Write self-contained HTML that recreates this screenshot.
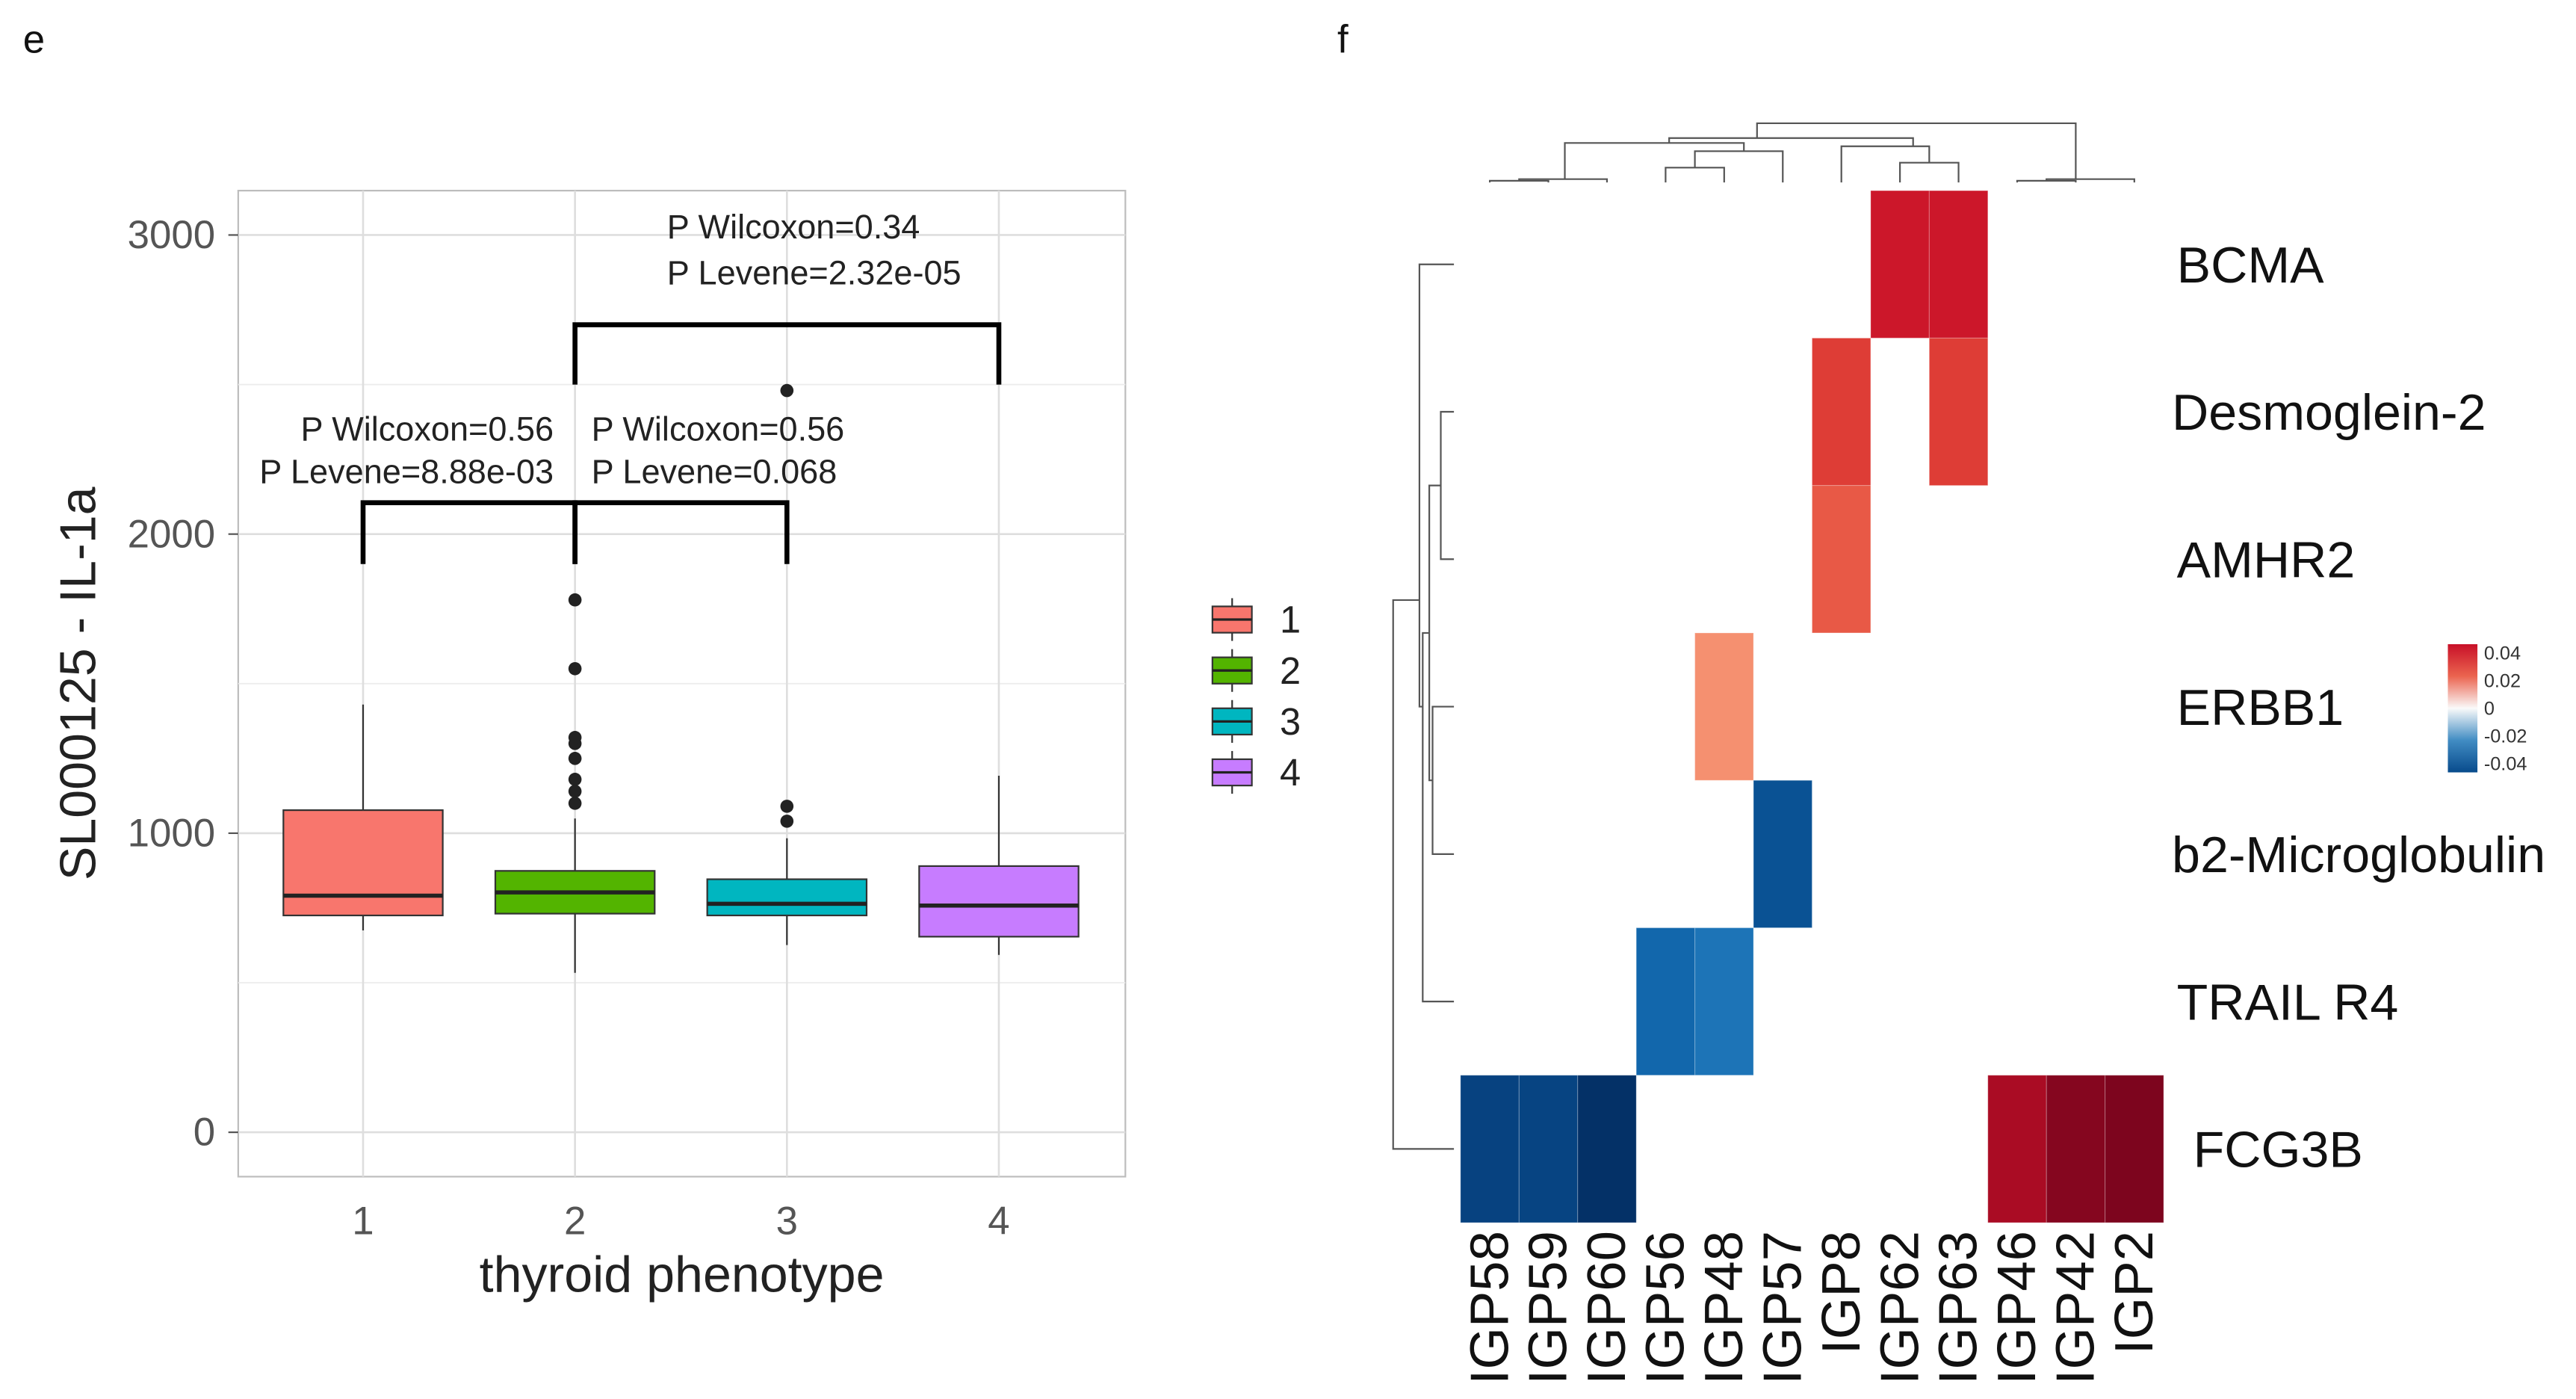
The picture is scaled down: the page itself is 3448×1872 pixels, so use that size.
<!DOCTYPE html>
<html><head><meta charset="utf-8"><style>
html,body{margin:0;padding:0;background:#fff}
svg{display:block}
text{font-family:"Liberation Sans",Arial,sans-serif}
</style></head><body>
<svg id="fig" width="3448" height="1872" viewBox="0 0 1568 851.3">
<text x="14" y="32" font-size="24" fill="#111">e</text>
<text x="814" y="32" font-size="24" fill="#111">f</text>
<g id="boxplot"></g>
<g id="heatmap"></g>
</svg>
<script>
// ---- Boxplot data ----
const groups = ["1","2","3","4"];
const q1 = [725, 731, 725, 654];
const med = [791, 802, 764, 758];
const q3 = [1077, 874, 846, 890];
const whiskLo = [675, 533, 626, 593];
const whiskHi = [1430, 1049, 983, 1192];
const outliers = [[], [1100,1140,1180,1250,1300,1320,1550,1780], [1040,1090,2480], []];
const fills = ["#F8766D","#53B400","#00B6C0","#C77CFF"];
const yTicks = [0,1000,2000,3000];
const minorTicks = [500,1500,2500];

const NS = "http://www.w3.org/2000/svg";
function mk(parent, tag, attrs){ const e=document.createElementNS(NS,tag); for(const k in attrs) e.setAttribute(k,attrs[k]); parent.appendChild(e); return e; }

const bp = document.getElementById('boxplot');
const PL=145, PR=685, PT=116, PB=716;
const yS = v => 689 - v*0.182;
const xS = i => 221 + i*129;

let el = mk(bp,'rect',{x:PL,y:PT,width:PR-PL,height:PB-PT,fill:'#fff',stroke:'#bdbdbd','stroke-width':1});


minorTicks.forEach(v=>{ const l=mk(bp,'line',{x1:PL,x2:PR,y1:yS(v),y2:yS(v),stroke:'#ececec','stroke-width':0.8});
 
  });
yTicks.forEach(v=>{ const l=mk(bp,'line',{x1:PL,x2:PR,y1:yS(v),y2:yS(v),stroke:'#dedede','stroke-width':1.2});
 
 
 const t=mk(bp,'text',{x:131,y:yS(v)+8,'text-anchor':'end','font-size':24,fill:'#555'}); t.textContent=v;
 
 
 const tk=mk(bp,'line',{x1:139,x2:PL,y1:yS(v),y2:yS(v),stroke:'#555','stroke-width':1});
 
  });
groups.forEach((g,i)=>{ const l=mk(bp,'line',{x1:xS(i),x2:xS(i),y1:PT,y2:PB,stroke:'#dedede','stroke-width':1.2});
 
 
 const t=mk(bp,'text',{x:xS(i),y:751,'text-anchor':'middle','font-size':24,fill:'#555'}); t.textContent=g;
 
  });

const bw=97;
groups.forEach((g,i)=>{
 const x=xS(i);
 const w1=mk(bp,'line',{x1:x,x2:x,y1:yS(whiskHi[i]),y2:yS(q3[i]),stroke:'#333','stroke-width':1});
 
 
 const w2=mk(bp,'line',{x1:x,x2:x,y1:yS(q1[i]),y2:yS(whiskLo[i]),stroke:'#333','stroke-width':1});
 
 
 const r=mk(bp,'rect',{x:x-bw/2,y:yS(q3[i]),width:bw,height:yS(q1[i])-yS(q3[i]),fill:fills[i],stroke:'#333','stroke-width':1});
 
 
 const m=mk(bp,'line',{x1:x-bw/2,x2:x+bw/2,y1:yS(med[i]),y2:yS(med[i]),stroke:'#222','stroke-width':2.5});
 
 
 outliers[i].forEach(v=>{ const c=mk(bp,'circle',{cx:x,cy:yS(v),r:4,fill:'#222'});
  
   });
});

// brackets
const brackets = [[0,1,2105,1900],[1,2,2105,1900],[1,3,2700,2500]];
brackets.forEach(b=>{
 const p=mk(bp,'path',{d:`M${xS(b[0])},${yS(b[3])}V${yS(b[2])}H${xS(b[1])}V${yS(b[3])}`,fill:'none',stroke:'#000','stroke-width':3});
 
 
});
const anns=[[337,268,'end','P Wilcoxon=0.56'],[337,294,'end','P Levene=8.88e-03'],[360,268,'start','P Wilcoxon=0.56'],[360,294,'start','P Levene=0.068'],[406,145,'start','P Wilcoxon=0.34'],[406,173,'start','P Levene=2.32e-05']];
anns.forEach(a=>{ const t=mk(bp,'text',{x:a[0],y:a[1],'text-anchor':a[2],'font-size':20.5,fill:'#222'}); t.textContent=a[3];
 
  });

let t=mk(bp,'text',{x:415,y:786,'text-anchor':'middle','font-size':31,fill:'#222'}); t.textContent='thyroid phenotype';


t=mk(bp,'text',{x:0,y:0,'text-anchor':'middle','font-size':31,fill:'#222',transform:'translate(58,416) rotate(-90)'}); t.textContent='SL000125 - IL-1a';



groups.forEach((g,i)=>{
 const y=377+i*31;
 const l=mk(bp,'line',{x1:750,x2:750,y1:y-13,y2:y+13,stroke:'#333','stroke-width':1});
 
 
 const r=mk(bp,'rect',{x:738,y:y-8,width:24,height:16,fill:fills[i],stroke:'#333','stroke-width':1});
 
 
 const m=mk(bp,'line',{x1:738,x2:762,y1:y,y2:y,stroke:'#222','stroke-width':1.5});
 
 
 const tt=mk(bp,'text',{x:779,y:y+8,'font-size':23,fill:'#222'}); tt.textContent=g;
 
 
});

// ---- Heatmap data ----
const rowsH = ["BCMA","Desmoglein-2","AMHR2","ERBB1","b2-Microglobulin","TRAIL R4","FCG3B"];
const colsH = ["IGP58","IGP59","IGP60","IGP56","IGP48","IGP57","IGP8","IGP62","IGP63","IGP46","IGP42","IGP2"];
const cellRow = [0,0,1,1,2,3,4,5,5,6,6,6,6,6,6];
const cellCol = [7,8,6,8,6,4,5,3,4,0,1,2,9,10,11];
const cellVal = [0.048,0.048,0.038,0.038,0.032,0.022,-0.048,-0.042,-0.038,-0.055,-0.054,-0.065,0.058,0.068,0.070];
const cbTicks = [0.04,0.02,0,-0.02,-0.04];

const hm=document.getElementById('heatmap');
const HX=889, HY=116, CW=(1317-889)/12, RH=(744-116)/7;
const stops=[[-0.07,[3,40,90]],[-0.05,[8,75,140]],[-0.04,[20,110,180]],[-0.02,[110,170,210]],[0,[250,250,250]],[0.02,[248,155,120]],[0.035,[228,72,58]],[0.05,[200,16,40]],[0.07,[125,5,30]]];
function col(v){ for(let i=0;i<stops.length-1;i++){ const a=stops[i],b=stops[i+1]; if(v<=b[0]||i===stops.length-2){ let f=(v-a[0])/(b[0]-a[0]); f=Math.max(0,Math.min(1,f)); const c=a[1].map((x,j)=>Math.round(x+(b[1][j]-x)*f)); return `rgb(${c})`; } } }
cellVal.forEach((v,k)=>{
 const r=mk(hm,'rect',{x:HX+cellCol[k]*CW,y:HY+cellRow[k]*RH,width:CW,height:RH,fill:col(v),stroke:'rgba(255,255,255,0.25)','stroke-width':0.5});
 
 
});
rowsH.forEach((n,i)=>{ const tt=mk(hm,'text',{x:n.length>10?1322:(n==='FCG3B'?1335:1325),y:HY+(i+0.5)*RH+11,'font-size':31,fill:'#111'}); tt.textContent=n;
 
  });
colsH.forEach((n,i)=>{ const cx=HX+(i+0.5)*CW+11; const tt=mk(hm,'text',{x:0,y:0,'text-anchor':'end','font-size':33,fill:'#111',transform:`translate(${cx},749) rotate(-90)`}); tt.textContent=n;
 
  });

// dendrograms (structure, drawn as paths)
const cc=i=>HX+(i+0.5)*CW;
const colDendro=[
 `M${cc(0)},111V110H${cc(1)}V111`,`M${(cc(0)+cc(1))/2},110V109H${cc(2)}V111`,
 `M${cc(3)},111V102H${cc(4)}V111`,`M${(cc(3)+cc(4))/2},102V92H${cc(5)}V111`,
 `M${cc(7)},111V99H${cc(8)}V111`,`M${cc(6)},111V89H${(cc(7)+cc(8))/2}V99`,
 `M${cc(9)},111V110H${cc(10)}V111`,`M${(cc(9)+cc(10))/2},110V109H${cc(11)}V111`,
 `M${(cc(0)+cc(2))/2+10},109V87H${(cc(3)+cc(5))/2+12}V92`,
 `M${(cc(0)+cc(5))/2+20},87V84H${(cc(6)+cc(8))/2+8}V89`,
 `M${(cc(0)+cc(8))/2+20},84V75H${(cc(9)+cc(11))/2}V109`];
colDendro.forEach(d=>{ const p=mk(hm,'path',{d:d,fill:'none',stroke:'#555','stroke-width':1});
 
  });
const rc=i=>HY+(i+0.5)*RH;
const rowDendro=[
 `M885,${rc(1)}H877V${rc(2)}H885`,`M885,${rc(3)}H872V${rc(4)}H885`,
 `M877,${(rc(1)+rc(2))/2}H870V${(rc(3)+rc(4))/2}H872`,
 `M885,${rc(5)}H866V${(rc(1)+rc(4))/2}H870`,
 `M885,${rc(0)}H864V${(rc(1)+rc(5))/2}H866`,
 `M885,${rc(6)}H848V${(rc(0)+rc(5))/2-20}H864`];
rowDendro.forEach(d=>{ const p=mk(hm,'path',{d:d,fill:'none',stroke:'#555','stroke-width':1});
 
  });

// colorbar
const defs=mk(hm,'defs',{});
const lg=mk(defs,'linearGradient',{id:'cbg',x1:0,y1:0,x2:0,y2:1});
[[0,0.05],[0.25,0.03],[0.5,0],[0.75,-0.03],[1,-0.05]].forEach(s=>mk(lg,'stop',{offset:s[0],'stop-color':col(s[1])}));
el=mk(hm,'rect',{x:1490,y:392,width:18,height:78,fill:'url(#cbg)'});


const cbY=v=>431-v*840;
cbTicks.forEach(v=>{ const tt=mk(hm,'text',{x:1512,y:cbY(v)+4,'font-size':11.5,fill:'#333'}); tt.textContent=String(v);
 
  });
</script>
</body></html>
